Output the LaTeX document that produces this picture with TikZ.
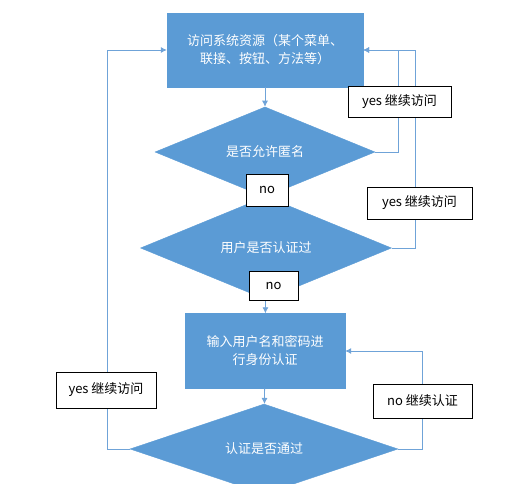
\documentclass[tikz,border=0pt]{standalone}
\usepackage{fontspec}
\setmainfont{Noto Sans CJK SC}
\usetikzlibrary{shapes.geometric,arrows.meta}
\definecolor{flowblue}{HTML}{5B9BD5}
\definecolor{lineblue}{HTML}{6FA3D8}

\begin{document}
\begin{tikzpicture}[x=1pt, y=-1pt, font=\fontsize{13}{18}\selectfont,
    box/.style={rectangle, fill=flowblue, draw=flowblue, text=white, align=center, inner sep=0},
    cond/.style={diamond, fill=flowblue, draw=flowblue, text=white, inner sep=0},
    tag/.style={rectangle, fill=white, draw=black, line width=0.6pt, inner sep=0},
    flow/.style={draw=lineblue, line width=0.8pt, -{Latex[length=6,width=6]}}]
    \useasboundingbox (0,0) rectangle (519,484);

    \node[box, minimum width=196, minimum height=74] (s1) at (265,50) {访问系统资源（某个菜单、\\联接、按钮、方法等）};
    \node[cond, minimum width=220, minimum height=70] (s2) at (265,152) {是否允许匿名};
    \node[cond, minimum width=251, minimum height=58] (s3) at (266,248) {用户是否认证过};
    \node[box, minimum width=160, minimum height=75] (s4) at (265,351) {输入用户名和密码进\\行身份认证};
    \node[cond, minimum width=268, minimum height=55] (s5) at (264,449) {认证是否通过};

    \coordinate (c1) at (398,50);
    \coordinate (c2) at (415,50);
    \coordinate (c3) at (422,351);
    \coordinate (c4) at (107,50);

    \draw[flow] (s1) to (s2);
    \draw[flow] (s2) to (s3);
    \draw[flow] (s3) to (s4);
    \draw[flow] (s4) to (s5);
    \draw[flow] (s2.east) -| (c1) -- (s1.east);
    \draw[flow] (s3.east) -| (c2) -- (s1.east);
    \draw[flow] (s5.east) -| (c3) -- (s4.east);
    \draw[flow] (s5.west) -| (c4) -- (s1.west);

    \node[tag, minimum width=103, minimum height=31] (t1) at (399.5,101.5) {yes 继续访问};
    \node[tag, minimum width=105, minimum height=32] (t2) at (419.5,203) {yes 继续访问};
    \node[tag, minimum width=42, minimum height=32] (t3) at (267,190) {no};
    \node[tag, minimum width=49, minimum height=29] (t4) at (273.5,285.5) {no};
    \node[tag, minimum width=100, minimum height=36] (t5) at (106,390) {yes 继续访问};
    \node[tag, minimum width=99, minimum height=34] (t6) at (422.5,401) {no 继续认证};
\end{tikzpicture}
\end{document}
